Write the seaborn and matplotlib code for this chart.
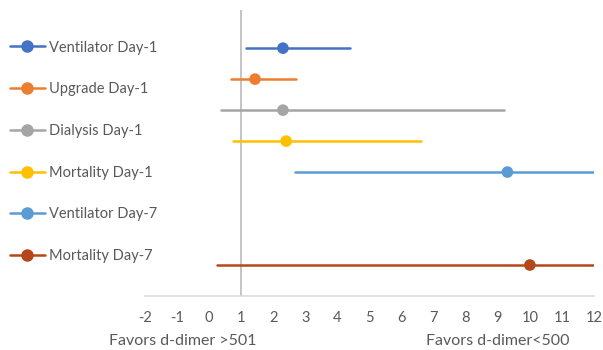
import pandas as pd
import numpy as np
import matplotlib.pyplot as plt
import seaborn as sns
from matplotlib.lines import Line2D

# Dados do gráfico
outcomes = ['Ventilator Day-1', 'Upgrade Day-1', 'Dialysis Day-1',
            'Mortality Day-1', 'Ventilator Day-7', 'Mortality Day-7']
estimate = [2.3, 1.43, 2.3, 2.4, 9.3, 10.0]
lower = [1.15, 0.68, 0.37, 0.74, 2.68, 0.25]
upper = [4.4, 2.7, 9.2, 6.6, 12.0, 12.0]
row = [8, 7, 6, 5, 4, 1]
xticks = list(range(-2, 13))
colors = ['#4472C4', '#ED7D31', '#A5A5A5', '#FFC000', '#5B9BD5', '#B5481A']

sns.set_style('white')
plt.rcParams['font.family'] = ['Lato', 'DejaVu Sans']

# Formato longo para os intervalos
lines = pd.DataFrame({
    'outcome': outcomes * 2,
    'x': lower + upper,
    'y': row * 2,
})
points = pd.DataFrame({'outcome': outcomes, 'x': estimate, 'y': row})
palette = dict(zip(outcomes, colors))

fig = plt.figure(figsize=(6.03, 3.5), dpi=100)
ax = fig.add_axes([0.2405, 0.1543, 0.7446, 0.817])

ax.axvline(1, color='#BFBFBF', lw=1.3, zorder=0)
sns.lineplot(data=lines, x='x', y='y', hue='outcome', palette=palette,
             estimator=None, sort=True, lw=1.8, legend=False, ax=ax)
sns.scatterplot(data=points, x='x', y='y', hue='outcome', palette=palette,
                s=70, edgecolor='none', legend=False, ax=ax, zorder=3)

ax.set_xlim(-2, 12)
ax.set_ylim(0, 9.23)
ax.set_xticks(xticks)
ax.set_xticklabels([str(t) for t in xticks], color='#595959', fontsize=10.5)
ax.set_yticks([])
ax.set_xlabel('')
ax.set_ylabel('')
ax.tick_params(axis='x', length=0, pad=11)
for side in ['top', 'right', 'left']:
    ax.spines[side].set_visible(False)
ax.spines['bottom'].set_color('#D9D9D9')
ax.spines['bottom'].set_linewidth(1.2)

fig.text(183 / 603, 1 - 341 / 350, 'Favors d-dimer >501', ha='center', va='center',
         fontsize=11.5, color='#595959')
fig.text(498 / 603, 1 - 341 / 350, 'Favors d-dimer<500', ha='center', va='center',
         fontsize=11.5, color='#595959')

handles = [Line2D([0], [0], color=c, lw=1.8, marker='o', markersize=8) for c in colors]
leg = fig.legend(handles, outcomes, loc='upper left', bbox_to_anchor=(0.016, 0.884),
                 frameon=False, fontsize=10.5, labelspacing=1.9, handlelength=2.4,
                 handletextpad=0.3, borderaxespad=0, borderpad=0)
for t in leg.get_texts():
    t.set_color('#595959')

fig.savefig('out.png', dpi=100)
